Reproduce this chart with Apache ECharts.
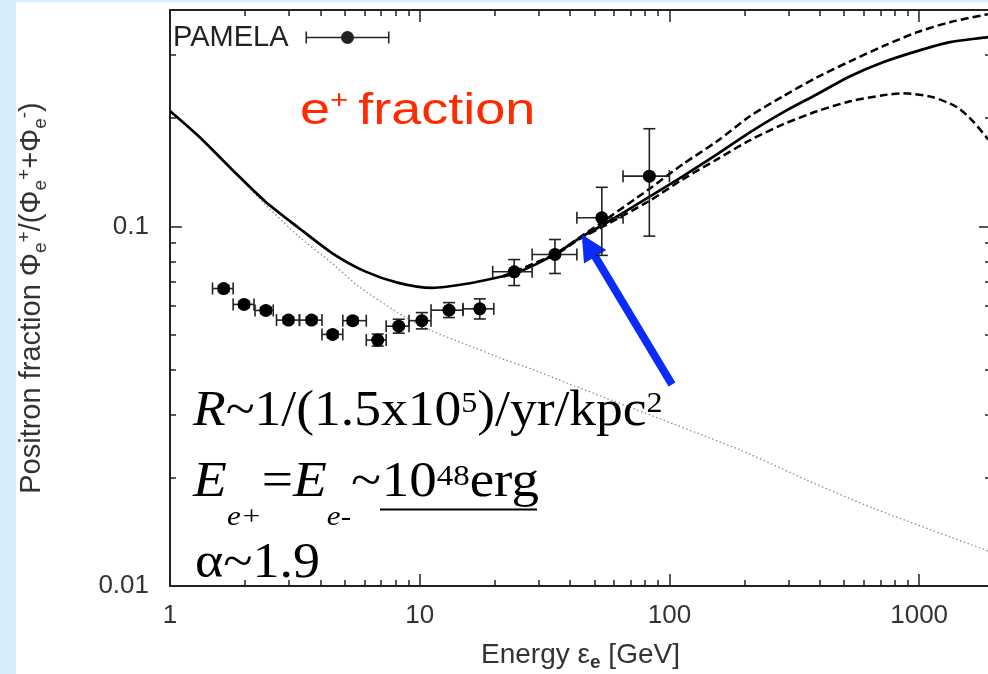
<!DOCTYPE html>
<html><head><meta charset="utf-8">
<script src="https://cdn.jsdelivr.net/npm/echarts@6/dist/echarts.min.js"></script>
<style>
html,body{margin:0;padding:0;background:#d6eefc;width:988px;height:674px;overflow:hidden;}
#paper{position:absolute;left:16px;top:2px;width:972px;height:672px;background:#fff;}
#chart{position:absolute;left:0;top:0;width:988px;height:674px;}
</style></head><body>
<div id="paper"></div><div id="chart"></div>
<script>
// ---------- axis ranges & ticks ----------
const xMin = 1, xMax = 1940, yMin = 0.01, yMax = 0.4;
const xMajorTicks = [1, 10, 100, 1000];
const xTickLabels = ['1', '10', '100', '1000'];
const xMinorTicks = [2,3,4,5,6,7,8,9,20,30,40,50,60,70,80,90,200,300,400,500,600,700,800,900];
const yMajorTicks = [0.01, 0.1];
const yTickLabels = ['0.01', '0.1'];
const yMinorTicks = [0.02,0.03,0.04,0.05,0.06,0.07,0.08,0.09,0.2,0.3];

// ---------- PAMELA data ----------
const pamelaE   = [1.64, 1.98, 2.42, 2.98, 3.69, 4.48, 5.39, 6.79, 8.24, 10.2, 13.1, 17.4, 23.9, 34.8, 53.6, 83.1];
const pamelaY   = [0.0672, 0.0607, 0.0584, 0.0549, 0.0549, 0.0501, 0.0547, 0.0483, 0.0528, 0.0547, 0.0585, 0.0590, 0.0748, 0.0836, 0.1057, 0.138];
const pamelaXLo = [1.48, 1.79, 2.19, 2.67, 3.30, 4.06, 4.92, 6.11, 7.34, 9.06, 11.1, 14.9, 19.6, 28.2, 42.6, 65.2];
const pamelaXHi = [1.79, 2.17, 2.59, 3.30, 4.06, 4.92, 6.11, 7.34, 9.06, 11.1, 14.9, 19.8, 28.2, 42.6, 65.2, 100];
const pamelaYLo = [0.0659, 0.0595, 0.0572, 0.0538, 0.0538, 0.0491, 0.0536, 0.0465, 0.0505, 0.0519, 0.0558, 0.0553, 0.0685, 0.0740, 0.0831, 0.094];
const pamelaYHi = [0.0685, 0.0619, 0.0596, 0.0560, 0.0560, 0.0511, 0.0558, 0.0502, 0.0552, 0.0576, 0.0614, 0.0629, 0.0809, 0.0920, 0.1285, 0.187];

// ---------- model curves ----------
const totalE = [1, 1.3, 1.77, 2.4, 3.27, 4.44, 6.04, 8.21, 11.2, 15.9, 21.6, 24.5, 34.8, 43.9, 53.6, 83.6, 113, 155, 210, 285, 390, 529, 717, 981, 1330, 1888];
const totalY = [0.2095, 0.1784, 0.1441, 0.1176, 0.0992, 0.0845, 0.0750, 0.0697, 0.0675, 0.0695, 0.0727, 0.0742, 0.0836, 0.0930, 0.1006, 0.1212, 0.1378, 0.1587, 0.1827, 0.2077, 0.2332, 0.2617, 0.2862, 0.3073, 0.3255, 0.3361];
const upperE = [21.6, 34.8, 43.9, 53.6, 83.6, 113, 155, 210, 285, 390, 529, 717, 981, 1330, 1888];
const upperY = [0.0727, 0.0838, 0.0935, 0.1026, 0.1276, 0.1489, 0.1725, 0.2025, 0.2302, 0.260, 0.288, 0.3172, 0.347, 0.370, 0.3895];
const lowerE = [21.6, 34.8, 43.9, 53.6, 83.6, 113, 155, 210, 285, 390, 529, 717, 862, 1137, 1418, 1644, 1888];
const lowerY = [0.0727, 0.0834, 0.0925, 0.0995, 0.1181, 0.1352, 0.1537, 0.1737, 0.1923, 0.2091, 0.2229, 0.2317, 0.2347, 0.2287, 0.2145, 0.1961, 0.1747];
const secE = [1, 1.3, 1.77, 2.4, 3.27, 4.44, 5.68, 8.6, 11.3, 15.4, 21, 28.4, 38.8, 192, 355, 654, 1888];
const secY = [0.2095, 0.1784, 0.1441, 0.1152, 0.0939, 0.0792, 0.0682, 0.0563, 0.0511, 0.0469, 0.0431, 0.0400, 0.0367, 0.0239, 0.0197, 0.01646, 0.01252];

// ---------- blue arrow (data coords) ----------
const arrowFrom = [102.4, 0.03635];
const arrowTo   = [47.4, 0.0885];

const SANS = "'Liberation Sans', Arial, sans-serif";
const SERIF = "'Liberation Serif', 'Times New Roman', serif";
const axisColor = '#222';

const pairs = (xs, ys) => xs.map((x, i) => [x, ys[i]]);
const fmtFrom = (ticks, labels) => v => {
  const i = ticks.findIndex(t => Math.abs(Math.log10(t) - Math.log10(v)) < 1e-6);
  return i >= 0 ? labels[i] : '';
};

function tickAxis(kind, pos, ticks, len, extra) {
  const base = {
    type: 'log', logBase: 10, position: pos, gridIndex: 0,
    min: kind === 'x' ? xMin : yMin, max: kind === 'x' ? xMax : yMax,
    axisLine: {show: false, onZero: false},
    axisTick: {show: true, inside: true, length: len, customValues: ticks, lineStyle: {color: axisColor, width: 1.5}},
    axisLabel: {show: false}, splitLine: {show: false}, minorTick: {show: false}, minorSplitLine: {show: false},
    axisPointer: {show: false}, nameMoveOverlap: false
  };
  return Object.assign(base, extra || {});
}
const frameLine = {show: true, onZero: false, lineStyle: {color: axisColor, width: 2}};

const xName = '{n|Energy ε}{s|e}{n| [GeV]}';
const yName = '{n|Positron fraction Φ}{s|e}{p|+}{n|/(Φ}{s|e}{p|+}{n|+Φ}{s|e}{p|-}{n|)}';
const yNameRich = {
  n: {fontSize: 29, fontFamily: SANS, color: '#333', padding: [0, 0, 3.5, 0], verticalAlign: 'bottom'},
  s: {fontSize: 19, fontFamily: SANS, color: '#333', verticalAlign: 'bottom'},
  p: {fontSize: 19, fontFamily: SANS, color: '#333', padding: [0, 0, 16, 0], verticalAlign: 'bottom'}
};
const xNameRich = {
  n: {fontSize: 28, fontFamily: SANS, color: '#333', padding: [0, 0, 3, 0], verticalAlign: 'bottom'},
  s: {fontSize: 19, fontFamily: SANS, color: '#333', fontWeight: 'bold', verticalAlign: 'bottom'}
};

const legendIcon = 'path://M0,0 M84,14 M0,6.25 L84,6.25 L84,7.75 L0,7.75 Z M0,1 L1.5,1 L1.5,13 L0,13 Z M82.5,1 L84,1 L84,13 L82.5,13 Z M35.5,7 A6.5,6.5 0 1,1 48.5,7 A6.5,6.5 0 1,1 35.5,7 Z';

const timesBase = (pad) => ({fontSize: 50, fontFamily: SERIF, padding: [0, 0, pad, 0], verticalAlign: 'bottom', fill: '#000'});
const timesItal = (pad) => Object.assign(timesBase(pad), {fontStyle: 'italic'});
const timesSmall = (size, pad, italic) => ({fontSize: size, fontFamily: SERIF, fontStyle: italic ? 'italic' : 'normal',
                                      padding: [0, 0, pad, 0], verticalAlign: 'bottom', fill: '#000'});

const option = {
  animation: false,
  backgroundColor: 'transparent',
  grid: {left: 170, top: 10, right: -3, bottom: 88, containLabel: false, outerBoundsMode: 'none'},
  legend: {
    show: true, left: 173, top: 22.5, padding: 0, orient: 'horizontal', align: 'right',
    itemWidth: 84, itemHeight: 14, selectedMode: false,
    data: [{name: 'PAMELA', icon: legendIcon}],
    itemStyle: {color: '#222', opacity: 1},
    textStyle: {fontSize: 29, fontFamily: SANS, color: '#222', lineHeight: 30, padding: [0, 12, 0, 0]}
  },
  xAxis: [
    tickAxis('x', 'bottom', xMajorTicks, 12, {
      axisLine: frameLine,
      axisLabel: {show: true, customValues: xMajorTicks, formatter: fmtFrom(xMajorTicks, xTickLabels),
                  fontSize: 26, fontFamily: SANS, color: '#333', margin: 17},
      name: xName, nameLocation: 'middle', nameGap: 55,
      nameTextStyle: {rich: xNameRich}
    }),
    tickAxis('x', 'bottom', xMinorTicks, 6),
    tickAxis('x', 'top', xMajorTicks, 12, {axisLine: frameLine}),
    tickAxis('x', 'top', xMinorTicks, 6)
  ],
  yAxis: [
    tickAxis('y', 'left', yMajorTicks, 12, {
      axisLine: frameLine,
      axisLabel: {show: true, customValues: yMajorTicks, formatter: fmtFrom(yMajorTicks, yTickLabels),
                  fontSize: 26, fontFamily: SANS, color: '#333', margin: 21},
      name: yName, nameLocation: 'middle', nameGap: 120, nameRotate: 90,
      nameTextStyle: {rich: yNameRich}
    }),
    tickAxis('y', 'left', yMinorTicks, 6),
    tickAxis('y', 'right', yMajorTicks, 12, {axisLine: frameLine}),
    tickAxis('y', 'right', yMinorTicks, 6)
  ],
  series: [
    {
      type: 'line', name: 'secondary', data: pairs(secE, secY), symbol: 'none', smooth: 0.2, z: 2,
      lineStyle: {color: '#8c8c8c', width: 1.3, type: [1.5, 2.5]},
      markLine: {
        silent: true, symbol: ['none', 'triangle'], symbolSize: [26, 26], animation: false,
        label: {show: false}, emphasis: {disabled: true},
        lineStyle: {color: '#0b2bfa', width: 8, type: 'solid', opacity: 1},
        itemStyle: {color: '#0b2bfa'},
        data: [[{coord: arrowFrom}, {coord: arrowTo}]]
      }
    },
    {type: 'line', name: 'upper', data: pairs(upperE, upperY), symbol: 'none', smooth: 0.25, z: 3,
     lineStyle: {color: '#000', width: 2.5, type: [8, 4]}},
    {type: 'line', name: 'lower', data: pairs(lowerE, lowerY), symbol: 'none', smooth: 0.25, z: 3,
     lineStyle: {color: '#000', width: 2.5, type: [8, 4]}},
    {type: 'line', name: 'total', data: pairs(totalE, totalY), symbol: 'none', smooth: 0.25, z: 4,
     lineStyle: {color: '#000', width: 2.7}},
    {
      type: 'custom', name: 'PAMELA errors', z: 5,
      data: pamelaE.map((e, i) => [e, pamelaY[i], pamelaXLo[i], pamelaXHi[i], pamelaYLo[i], pamelaYHi[i]]),
      encode: {x: 0, y: 1},
      renderItem(params, api) {
        const y = api.value(1), x = api.value(0);
        const l = api.coord([api.value(2), y]);
        const r = api.coord([api.value(3), y]);
        const t = api.coord([x, api.value(5)]);
        const b = api.coord([x, api.value(4)]);
        const st = {stroke: '#222', lineWidth: 1.6};
        const cap = 6;
        const ln = (x1, y1, x2, y2) => ({type: 'line', shape: {x1, y1, x2, y2}, style: st});
        return {type: 'group', children: [
          ln(l[0], l[1], r[0], r[1]),
          ln(l[0], l[1] - cap, l[0], l[1] + cap),
          ln(r[0], r[1] - cap, r[0], r[1] + cap),
          ln(t[0], t[1], b[0], b[1]),
          ln(t[0] - cap, t[1], t[0] + cap, t[1]),
          ln(b[0] - cap, b[1], b[0] + cap, b[1])
        ]};
      }
    },
    {type: 'scatter', name: 'PAMELA', data: pairs(pamelaE, pamelaY), symbol: 'circle', symbolSize: 13, z: 6,
     itemStyle: {color: '#000', opacity: 1}}
  ],
  graphic: [
    {type: 'text', x: 300, y: 87.6, scaleX: 1.2, z: 100, style: {
      text: '{b|e}{p|+}{s| }{b|fraction}', fill: '#ff2a00', align: 'left', verticalAlign: 'top',
      rich: {
        b: {fontSize: 45, fontFamily: SANS, verticalAlign: 'bottom', fill: '#ff2a00'},
        p: {fontSize: 26, fontFamily: SANS, padding: [0, 0, 20, 0], verticalAlign: 'bottom', fill: '#ff2a00'},
        s: {fontSize: 30, fontFamily: SANS, verticalAlign: 'bottom', fill: '#ff2a00'}
      }}},
    {type: 'text', x: 193, y: 387.1, scaleX: 1.07, z: 100, style: {
      text: '{i|R}{n|~1/(1.5x10}{p|5}{n|)/yr/kpc}{p|2}', fill: '#000', align: 'left', verticalAlign: 'top',
      rich: {i: timesItal(0), n: timesBase(0), p: timesSmall(30, 18, false)}}},
    {type: 'text', x: 193, y: 458.1, scaleX: 1.11, z: 100, style: {
      text: '{i|E}{s|e+}{n|=}{i|E}{s|e-}{n|~}', fill: '#000', align: 'left', verticalAlign: 'top',
      rich: {i: timesItal(23.4), n: timesBase(23.4), s: timesSmall(28, 0, true)}}},
    {type: 'text', x: 381.7, y: 458.1, scaleX: 1.1, z: 100, style: {
      text: '{n|10}{p|48}{n|erg}', fill: '#000', align: 'left', verticalAlign: 'top',
      rich: {n: timesBase(23.4), p: timesSmall(30, 38.9, false)}}},
    {type: 'line', z: 100, shape: {x1: 380, y1: 509.5, x2: 537, y2: 509.5}, style: {stroke: '#000', lineWidth: 2}},
    {type: 'text', x: 195, y: 539.1, scaleX: 1.08, z: 100, style: {
      text: '{n|α~1.9}', fill: '#000', align: 'left', verticalAlign: 'top',
      rich: {n: timesBase(0)}}}
  ]
};

const chart = echarts.init(document.getElementById('chart'), null, {renderer: 'canvas', width: 988, height: 674});
chart.setOption(option);
</script>
</body></html>
